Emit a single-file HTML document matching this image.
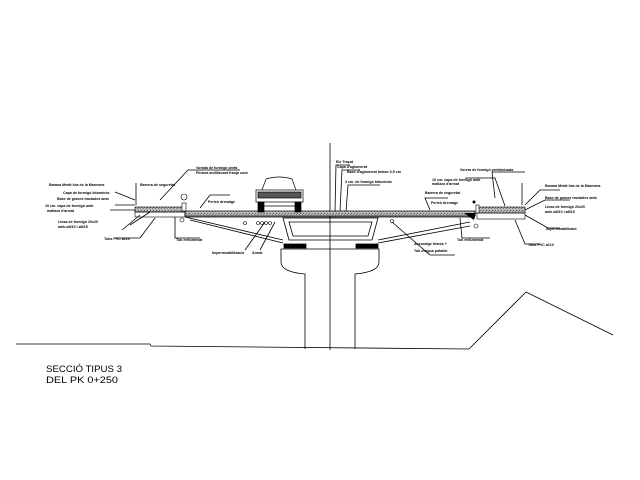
<!DOCTYPE html>
<html><head><meta charset="utf-8"><style>
html,body{margin:0;padding:0;background:#fff;}
svg{display:block;}
text{font-family:"Liberation Sans",sans-serif;fill:#000;}
.t{font-size:3.6px;font-weight:bold;}
</style></head><body>
<svg width="640" height="480" viewBox="0 0 640 480" xmlns="http://www.w3.org/2000/svg">
<defs>
<pattern id="hat" width="3" height="3" patternUnits="userSpaceOnUse">
<rect width="3" height="3" fill="#bbb"/><rect x="0" y="0" width="1" height="1" fill="#555"/><rect x="2" y="1" width="1" height="1" fill="#777"/>
</pattern>
</defs>
<g stroke="#000" stroke-width="0.8" fill="none">
<polyline points="16,344 150,344 151,346 469,349 526,292 613,335"/>
<path d="M305,349 L305,274 Q281,272 281,262 L281,249 L379,249 L379,262 Q379,272 355,274 L355,349"/>
<rect x="284" y="244" width="22" height="4" fill="#000"/>
<rect x="356" y="244" width="22" height="4" fill="#000"/>
<path d="M283,218 L378,218 L372,240 L289,240 Z"/>
<path d="M289,222 L372,222 L368,236 L293,236 Z"/>
<polyline points="185,217 283,240"/>
<polyline points="190,220 283,243"/>
<polyline points="378,240 470,222"/>
<polyline points="378,243 470,226"/>
<line x1="330" y1="143" x2="330" y2="350"/>
<polyline points="160,200 188,170 240,170"/>
<polyline points="200,208 210,195 230,195"/>
<polyline points="175,217 175,238 200,238"/>
<polyline points="130,225 150,212"/>
<polyline points="245,250 265,222"/>
<polyline points="260,250 275,222"/>
<polyline points="392,222 430,255 455,255"/>
<polyline points="430,210 425,198 448,198"/>
<polyline points="460,218 462,238 490,238"/>
<polyline points="505,206 495,178 465,178"/>
<polyline points="495,198 492,172 525,172"/>
<polyline points="525,205 540,190 560,190"/>
<polyline points="525,210 545,200 570,200"/>
<polyline points="525,215 548,228 560,228"/>
<polyline points="515,220 525,244 540,244"/>
<line x1="522" y1="183" x2="522" y2="205"/>
<polyline points="135,200 115,192"/>
<polyline points="135,205 115,205"/>
<polyline points="135,210 110,210"/>
<polyline points="140,215 122,230"/>
<polyline points="155,218 140,238 115,238"/>
<line x1="136" y1="183" x2="136" y2="205"/>
<polyline points="335,212 336,165 350,165"/>
<polyline points="340,212 342,170 360,170"/>
<polyline points="346,212 348,185 380,185"/>
</g>
<rect x="185" y="211" width="290" height="5" fill="url(#hat)" stroke="#000" stroke-width="0.7"/>
<line x1="185" y1="217" x2="475" y2="217" stroke="#000" stroke-width="0.8"/>
<rect x="135" y="207" width="50" height="5" fill="url(#hat)" stroke="#000" stroke-width="0.6"/>
<rect x="135" y="212" width="50" height="5" fill="none" stroke="#000" stroke-width="0.6"/>
<rect x="182" y="203" width="4" height="8" fill="#fff" stroke="#000" stroke-width="0.6"/>
<circle cx="182" cy="220" r="2" fill="none" stroke="#000" stroke-width="0.6"/>
<circle cx="184" cy="197" r="3" fill="none" stroke="#000" stroke-width="0.6"/>
<rect x="477" y="207" width="48" height="6" fill="url(#hat)" stroke="#000" stroke-width="0.6"/>
<rect x="477" y="213" width="48" height="6" fill="none" stroke="#000" stroke-width="0.6"/>
<rect x="476" y="205" width="3" height="8" fill="#fff" stroke="#000" stroke-width="0.6"/>
<polygon points="464,213 476,213 474,220" fill="#000"/>
<circle cx="476" cy="226" r="2" fill="none" stroke="#000" stroke-width="0.6"/>
<circle cx="474" cy="202" r="1.5" fill="#000"/>
<g fill="none" stroke="#000" stroke-width="0.6">
<circle cx="245" cy="223" r="1.5"/><circle cx="258" cy="223" r="1.5"/><circle cx="262" cy="223" r="1.5"/><circle cx="266" cy="223" r="1.5"/><circle cx="270" cy="223" r="1.5"/>
<circle cx="392" cy="221" r="1.5"/>
</g>
<g stroke="#000" stroke-width="0.7" fill="none">
<path d="M262,190 L266,179 Q279,175 292,179 L296,190"/>
<rect x="256" y="190" width="47" height="12" fill="#fff"/>
<rect x="258" y="192" width="43" height="6" fill="#555"/>
<rect x="258" y="202" width="6" height="10" fill="#000"/>
<rect x="295" y="202" width="6" height="10" fill="#000"/>
<line x1="264" y1="206" x2="295" y2="206"/>
</g>
<g class="t">
<text x="196" y="169">Vorada de formigó prefa</text>
<text x="196" y="174">Pintura antilliscant franja curb</text>
<text x="208" y="203">Pericó drenatge</text>
<text x="140" y="186">Barrera de seguretat</text>
<text x="176" y="241">Tub enllumenat</text>
<text x="212" y="254">Impermeabilització</text>
<text x="252" y="254">Armat</text>
<text x="49" y="186">Barana Metàl·lica de la Maresma</text>
<text x="63" y="194">Capa de formigó bituminós</text>
<text x="57" y="200">Base de graves tractades amb</text>
<text x="45" y="207">10 cm. capa de formigó amb</text>
<text x="47" y="212">mallazo d'armat</text>
<text x="58" y="223">Llosa de formigó 20x20</text>
<text x="58" y="228">amb ø8/10 i ø8/15</text>
<text x="104" y="240">Tubs PVC ø110</text>
<text x="336" y="163">Eix Traçat</text>
<text x="337" y="168">Capa d'aglomerat</text>
<text x="347" y="173">Base d'aglomerat betum 0-5 cm</text>
<text x="345" y="183">4 cm. de formigó bituminós</text>
<text x="460" y="171">Vorera de formigó prefabricada</text>
<text x="432" y="181">10 cm. capa de formigó amb</text>
<text x="432" y="185">mallazo d'armat</text>
<text x="425" y="194">Barrera de seguretat</text>
<text x="431" y="204">Pericó drenatge</text>
<text x="457" y="241">Tub enllumenat</text>
<text x="414" y="245">Ancoratge tirants +</text>
<text x="414" y="252">Tub d'aigua potable</text>
<text x="545" y="187">Barana Metàl·lica de la Maresma</text>
<text x="545" y="199">Base de graves tractades amb</text>
<text x="545" y="208">Llosa de formigó 20x20</text>
<text x="545" y="213">amb ø8/10 i ø8/15</text>
<text x="546" y="230">Impermeabilitzant</text>
<text x="528" y="246">Tubs PVC ø110</text>
</g>
<g style="font-family:'Liberation Sans',sans-serif;font-size:9px;font-weight:100;">
<text x="46" y="372" textLength="76" lengthAdjust="spacingAndGlyphs">SECCIÓ TIPUS 3</text>
<text x="46" y="383" textLength="72" lengthAdjust="spacingAndGlyphs">DEL PK 0+250</text>
</g>
</svg>
</body></html>
